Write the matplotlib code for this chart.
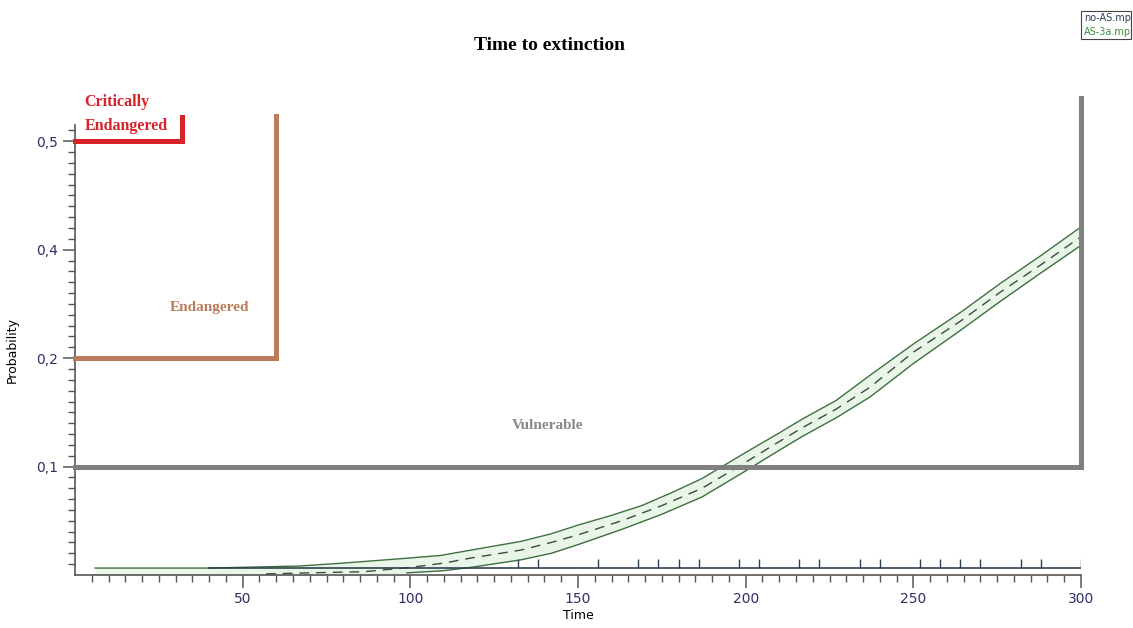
import numpy as np
import matplotlib
matplotlib.use("Agg")
import matplotlib.pyplot as plt
from matplotlib.patches import Rectangle

# data
t_upper = [6, 40, 67, 80, 97, 109, 120, 133, 142, 150, 160, 169, 178, 187, 200, 210, 217, 227,
           237, 250, 264, 276, 288, 300]
p_upper = [0.0064, 0.0064, 0.0083, 0.011, 0.0150, 0.018, 0.024, 0.031, 0.038, 0.046, 0.055,
           0.064, 0.076, 0.089, 0.113, 0.131, 0.144, 0.161, 0.184, 0.226, 0.284, 0.338, 0.389, 0.421]
t_mean = [57, 70, 86, 100, 110, 118, 133, 142, 150, 163, 175, 187, 200, 210, 217, 227, 237,
          250, 264, 276, 288, 300]
p_mean = [0.001, 0.002, 0.003, 0.007, 0.011, 0.0156, 0.023, 0.030, 0.037, 0.050, 0.064, 0.080,
          0.104, 0.123, 0.136, 0.153, 0.173, 0.211, 0.268, 0.322, 0.372, 0.412]
t_lower = [99, 110, 118, 133, 142, 150, 163, 175, 187, 200, 210, 217, 227, 237, 250, 264, 276,
           288, 300]
p_lower = [0.002, 0.004, 0.007, 0.014, 0.020, 0.028, 0.042, 0.056, 0.072, 0.096, 0.115, 0.128,
           0.145, 0.164, 0.195, 0.251, 0.305, 0.357, 0.404]

noas_start, noas_end, noas_level = 40, 300, 0.0064
noas_events = [132, 138, 156, 168, 174, 180, 186, 198, 204, 216, 222, 234, 240, 252, 258,
               264, 270, 282, 288, 300]

# threshold lines (IUCN-style categories)
thresholds = [
    ("Critically\nEndangered", 0.5, 32, 0.522, "#d8232a"),
    ("Endangered", 0.2, 60, 0.523, "#b97c5c"),
    ("Vulnerable", 0.1, 300, 0.54, "#808080"),
]

y_ticks = [0.1, 0.2, 0.4, 0.5]
y_ticklabels = ["0,1", "0,2", "0,4", "0,5"]
x_ticks = [50, 100, 150, 200, 250, 300]

# piecewise probability scale: equal spacing for 0-0.1-0.2-0.4-0.5
knots_p = np.array([0.0, 0.1, 0.2, 0.4, 0.5])
knots_s = np.array([0.0, 1.0, 2.0, 3.0, 4.0])


def fwd(y):
    y = np.asarray(y, dtype=float)
    out = np.interp(y, knots_p, knots_s)
    out = np.where(y < 0, y / 0.1, out)
    out = np.where(y > 0.5, 4 + (y - 0.5) / 0.1, out)
    return out


def inv(s):
    s = np.asarray(s, dtype=float)
    out = np.interp(s, knots_s, knots_p)
    out = np.where(s < 0, s * 0.1, out)
    out = np.where(s > 4, 0.5 + (s - 4) * 0.1, out)
    return out


fig = plt.figure(figsize=(11.33, 6.28), dpi=100)
ax = fig.add_axes([75 / 1133, 1 - 575 / 628, (1081 - 75) / 1133, (575 - 125) / 628])
ax.set_yscale("function", functions=(fwd, inv))
ax.set_xlim(0, 300)
ax.set_ylim(0, 0.515)

# AS-3a band
green = "#3f6f3f"
tt = np.array(t_upper, dtype=float)
low_on_upper = np.interp(tt, t_lower, p_lower, left=0.0)
ax.fill_between(tt, low_on_upper, p_upper, color="#e9f5e9", lw=0, zorder=1)
ax.plot(t_upper, p_upper, color=green, lw=1.0, zorder=3)
ax.plot(t_lower, p_lower, color=green, lw=1.0, zorder=3)
ax.plot(t_mean, p_mean, color="#34503a", lw=1.0, dashes=(7, 5), zorder=3)

# no-AS line with event ticks
ax.plot([noas_start, noas_end], [noas_level, noas_level], color="#2f3f4f", lw=1.2, zorder=4)
ax.vlines(noas_events, noas_level, noas_level + 0.008, color="#2f3f4f", lw=1.0, zorder=4)

# category thresholds
for label, level, xend, ytop, col in thresholds:
    ax.plot([0, xend, xend], [level, level, ytop], color=col, lw=3.6,
            solid_joinstyle="miter", clip_on=False, zorder=5)

ax.text(2.8, 0.5255, "Critically\nEndangered", color="#d8232a", fontsize=11.5,
        family="Liberation Serif", weight="bold", ha="left", va="center", linespacing=1.65)
ax.text(40, 0.294, "Endangered", color="#b97c5c", fontsize=11,
        family="Liberation Serif", weight="bold", ha="center", va="center")
ax.text(141, 0.138, "Vulnerable", color="#888888", fontsize=11,
        family="Liberation Serif", weight="bold", ha="center", va="center")

# axes styling
for s in ["top", "right"]:
    ax.spines[s].set_visible(False)
for s in ["left", "bottom"]:
    ax.spines[s].set_color("#555555")
    ax.spines[s].set_linewidth(1.2)

ax.set_yticks(y_ticks)
ax.set_yticklabels(y_ticklabels)
minor_y = list(np.arange(0.01, 0.1, 0.01)) + list(np.arange(0.11, 0.2, 0.01)) + \
    list(np.arange(0.22, 0.4, 0.02)) + list(np.arange(0.41, 0.5, 0.01)) + [0.51]
ax.set_yticks(minor_y, minor=True)
ax.set_xticks(x_ticks)
ax.set_xticks(np.arange(5, 300, 5), minor=True)
ax.tick_params(axis="both", which="major", length=9, width=1.1, color="#555555",
               labelcolor="#2f2f66", labelsize=10)
ax.tick_params(axis="both", which="minor", length=5, width=1.0, color="#555555")

ax.set_xlabel("Time", fontsize=9, labelpad=2)
ax.set_ylabel("Probability", fontsize=9, labelpad=12)

fig.text(550 / 1133, 1 - 46 / 628, "Time to extinction", ha="center", va="center",
         fontsize=14, family="Liberation Serif", weight="bold")

# little legend box top right
fig.patches.append(Rectangle((1081 / 1133, 1 - 39 / 628), 50 / 1133, 28 / 628,
                             transform=fig.transFigure, fill=False, ec="#444444", lw=0.8))
fig.text(1084 / 1133, 1 - 18 / 628, "no-AS.mp", color="#2f3f5f", fontsize=7, va="center")
fig.text(1084 / 1133, 1 - 32 / 628, "AS-3a.mp", color="#3f8f3f", fontsize=7, va="center")

fig.savefig("out.png", dpi=100)
